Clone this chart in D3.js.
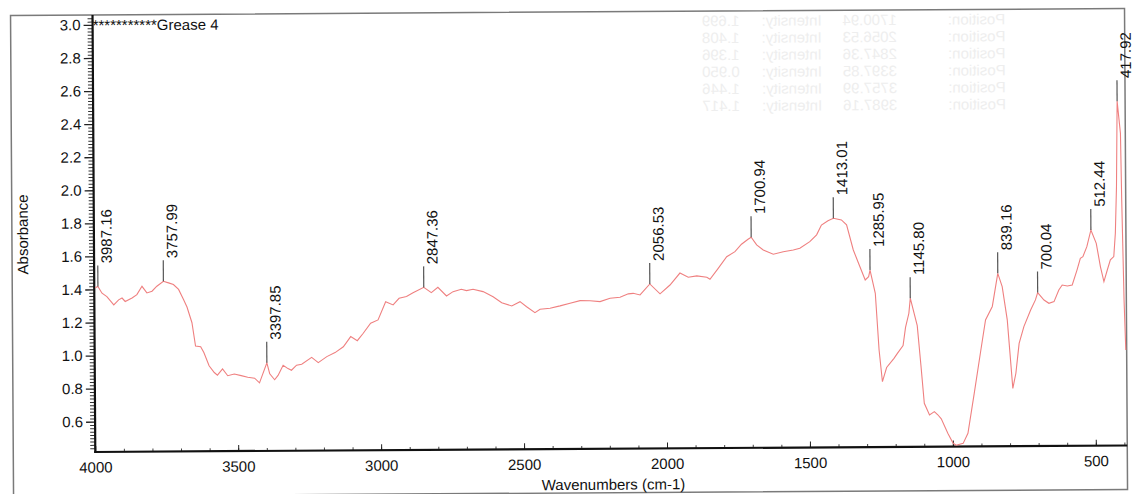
<!DOCTYPE html>
<style>
  body { margin: 0; background: #fff; }
  svg { font: 15px Arial, "Liberation Sans", sans-serif; }
</style>
<svg width="1137" height="494"></svg>
<script src="https://d3js.org/d3.v7.min.js"></script>
<script>

  var wavenumbers = [3997, 3987.16, 3973, 3956, 3932, 3915, 3903, 3892, 3868, 3851, 3833, 3816, 3798, 3781, 3757.99, 3740, 3723, 3705, 3688, 3676,
    3659, 3647, 3629, 3618, 3600, 3582, 3571, 3553, 3535, 3512, 3488, 3465, 3441, 3424, 3397.85, 3388, 3371, 3359, 3341, 3324,
    3312, 3294, 3276, 3241, 3218, 3188, 3159, 3130, 3104, 3081, 3060, 3034, 3008, 2981, 2955, 2934, 2908, 2885, 2847.36, 2821,
    2798, 2768, 2745, 2716, 2698, 2675, 2640, 2605, 2575, 2540, 2511, 2488, 2459, 2441, 2406, 2371, 2336, 2301, 2266, 2231,
    2196, 2161, 2132, 2115, 2091, 2056.53, 2021, 1986, 1951, 1922, 1892, 1857, 1846, 1817, 1787, 1758, 1735, 1712, 1700.94, 1682,
    1659, 1624, 1589, 1554, 1531, 1496, 1472, 1455, 1432, 1413.01, 1385, 1367, 1344, 1326, 1303, 1291, 1285.95, 1268, 1256, 1245,
    1230, 1204, 1192, 1172, 1163, 1151, 1145.80, 1122, 1110, 1099, 1081, 1064, 1052, 1040, 1017, 999, 988, 964, 947, 924,
    900, 883, 859, 839.16, 824, 807, 789, 778, 766, 749, 725, 708, 700.04, 678, 661, 643, 626, 614, 596, 579,
    562, 550, 541, 527, 512.44, 494, 480, 468, 456, 445, 433, 427, 422, 417.92, 407, 404, 398, 393];

  var absorbance = [1.41, 1.418, 1.377, 1.356, 1.306, 1.336, 1.347, 1.326, 1.347, 1.367, 1.417, 1.377, 1.387, 1.417, 1.447, 1.437, 1.427, 1.397, 1.336, 1.29,
    1.195, 1.054, 1.05, 1.014, 0.934, 0.893, 0.877, 0.914, 0.873, 0.883, 0.873, 0.863, 0.857, 0.829, 0.95, 0.883, 0.847, 0.873, 0.934, 0.914,
    0.904, 0.934, 0.94, 0.981, 0.949, 0.985, 1.009, 1.044, 1.105, 1.08, 1.125, 1.185, 1.205, 1.315, 1.295, 1.335, 1.345, 1.368, 1.40, 1.368,
    1.40, 1.347, 1.373, 1.387, 1.379, 1.387, 1.372, 1.341, 1.304, 1.284, 1.31, 1.279, 1.243, 1.263, 1.269, 1.283, 1.299, 1.314, 1.313, 1.307,
    1.327, 1.333, 1.353, 1.356, 1.346, 1.412, 1.352, 1.405, 1.477, 1.451, 1.459, 1.45, 1.438, 1.504, 1.574, 1.604, 1.649, 1.679, 1.691, 1.644,
    1.613, 1.587, 1.602, 1.612, 1.622, 1.662, 1.703, 1.762, 1.788, 1.802, 1.792, 1.762, 1.61, 1.529, 1.428, 1.448, 1.488, 1.347, 1.004, 0.812,
    0.898, 0.953, 0.983, 1.03, 1.14, 1.225, 1.316, 1.15, 0.91, 0.68, 0.609, 0.629, 0.61, 0.585, 0.497, 0.437, 0.425, 0.436, 0.497, 0.739,
    1.0, 1.182, 1.263, 1.463, 1.383, 1.181, 0.767, 0.858, 1.039, 1.14, 1.24, 1.301, 1.345, 1.30, 1.28, 1.29, 1.36, 1.39, 1.384, 1.39,
    1.48, 1.551, 1.561, 1.621, 1.722, 1.641, 1.50, 1.409, 1.479, 1.54, 1.56, 1.701, 1.983, 2.50, 2.306, 1.902, 1.297, 0.995];

  var peakLabels = ["3987.16", "3757.99", "3397.85", "2847.36", "2056.53", "1700.94", "1413.01", "1285.95", "1145.80", "839.16", "700.04", "512.44", "417.92"];
  var peakAbs = [1.418, 1.447, 0.95, 1.40, 1.412, 1.691, 1.802, 1.488, 1.316, 1.463, 1.345, 1.722, 2.50];

  var xTicks = [4000, 3500, 3000, 2500, 2000, 1500, 1000, 500];
  var yTicks = [0.6, 0.8, 1.0, 1.2, 1.4, 1.6, 1.8, 2.0, 2.2, 2.4, 2.6, 2.8, 3.0];

  // faint print-through from the back of the page
  var ghostPositions = ["1700.94", "2056.53", "2847.36", "3397.85", "3757.99", "3987.16"];
  var ghostIntensities = ["1.699", "1.408", "1.396", "0.950", "1.446", "1.417"];

  var svg = d3.select("svg");
  var g = svg.append("g").attr("transform", "rotate(-0.36 568 247)");

  var plotLeft = 94, plotRight = 1126, plotTop = 12, plotBottom = 449;

  var x = d3.scaleLinear().domain([4000, 390]).range([plotLeft, plotRight]);
  var y = d3.scaleLinear().domain([0.417, 3.06]).range([plotBottom, plotTop]);

  // ghost table
  var ghost = g.append("g").attr("fill", "#eeeeee").attr("font-size", "15px");
  ghostPositions.forEach(function (p, i) {
    var yy = 27 + i * 17;
    [[722, ghostIntensities[i]], [793, "Intensity:"], [871, p], [978, "Position:"]].forEach(function (c) {
      ghost.append("text")
        .attr("transform", "translate(" + c[0] + "," + yy + ") scale(-1,1)")
        .attr("text-anchor", "middle")
        .text(c[1]);
    });
  });

  // outer frame
  g.append("rect")
    .attr("x", 12).attr("y", plotTop)
    .attr("width", plotRight - 12).attr("height", 493 - plotTop)
    .attr("fill", "none").attr("stroke", "#7a7a7a").attr("stroke-width", 1.5);

  // y axis, minor then major
  var yMinor = d3.range(0.44, 3.05, 0.02).filter(function (v) { return Math.abs(v * 5 - Math.round(v * 5)) > 0.01; });
  g.append("g").attr("transform", "translate(" + plotLeft + ",0)")
    .call(d3.axisLeft(y).tickValues(yMinor).tickSize(5).tickFormat(""))
    .call(function (a) { a.select(".domain").remove(); a.selectAll("line").attr("stroke", "#333"); });

  g.append("g").attr("transform", "translate(" + plotLeft + ",0)")
    .call(d3.axisLeft(y).tickValues(yTicks).tickSize(9).tickPadding(3).tickFormat(d3.format(".1f")))
    .call(function (a) {
      a.select(".domain").remove();
      a.selectAll("line").attr("stroke", "#222").attr("stroke-width", 1.3);
      a.selectAll("text").attr("font-size", "15px").attr("font-family", "Arial, 'Liberation Sans', sans-serif").attr("fill", "#111");
    });

  // x axis, ticks point inward
  g.append("g").attr("transform", "translate(0," + plotBottom + ")")
    .call(d3.axisBottom(x).tickValues(d3.range(3900, 390, -100)).tickSize(-3).tickFormat(""))
    .call(function (a) { a.select(".domain").remove(); a.selectAll("line").attr("stroke", "#444"); });

  g.append("g").attr("transform", "translate(0," + plotBottom + ")")
    .call(d3.axisBottom(x).tickValues(xTicks).tickSize(-6).tickPadding(10).tickFormat(d3.format("d")))
    .call(function (a) {
      a.select(".domain").remove();
      a.selectAll("line").attr("stroke", "#222");
      a.selectAll("text").attr("font-size", "15px").attr("font-family", "Arial, 'Liberation Sans', sans-serif").attr("fill", "#111");
    });

  g.append("line").attr("x1", plotLeft).attr("x2", plotLeft).attr("y1", plotTop).attr("y2", plotBottom + 1)
    .attr("stroke", "#111").attr("stroke-width", 2.2);
  g.append("line").attr("x1", plotLeft - 1).attr("x2", plotRight).attr("y1", plotBottom).attr("y2", plotBottom)
    .attr("stroke", "#111").attr("stroke-width", 2.2);

  // spectrum
  var spectrum = wavenumbers.map(function (w, i) { return [w, absorbance[i]]; });
  g.append("path")
    .datum(spectrum)
    .attr("fill", "none")
    .attr("stroke", "#ef8080")
    .attr("stroke-width", 1.1)
    .attr("d", d3.line().x(function (d) { return x(d[0]); }).y(function (d) { return y(d[1]); }));

  // peak markers
  var peaks = g.selectAll(".peak")
    .data(peakLabels.map(function (p, i) { return { label: p, w: +p, a: peakAbs[i] }; }))
    .enter().append("g").attr("class", "peak");

  peaks.append("line")
    .attr("x1", function (d) { return x(d.w); })
    .attr("x2", function (d) { return x(d.w); })
    .attr("y1", function (d) { return y(d.a); })
    .attr("y2", function (d) { return y(d.a) - 21; })
    .attr("stroke", "#555").attr("stroke-width", 1.2);

  peaks.append("text")
    .attr("transform", function (d) { return "translate(" + (x(d.w) + 14) + "," + (y(d.a) - 23) + ") rotate(-90)"; })
    .attr("fill", "#111")
    .text(function (d) { return d.label; });

  // titles
  g.append("text").attr("x", plotLeft).attr("y", 27.5).attr("fill", "#111").text("***********Grease 4");

  g.append("text")
    .attr("x", 612).attr("y", 490)
    .attr("text-anchor", "middle").attr("fill", "#111")
    .text("Wavenumbers (cm-1)");

  g.append("text")
    .attr("transform", "translate(28,231) rotate(-90)")
    .attr("text-anchor", "middle").attr("fill", "#111")
    .text("Absorbance");

</script>
